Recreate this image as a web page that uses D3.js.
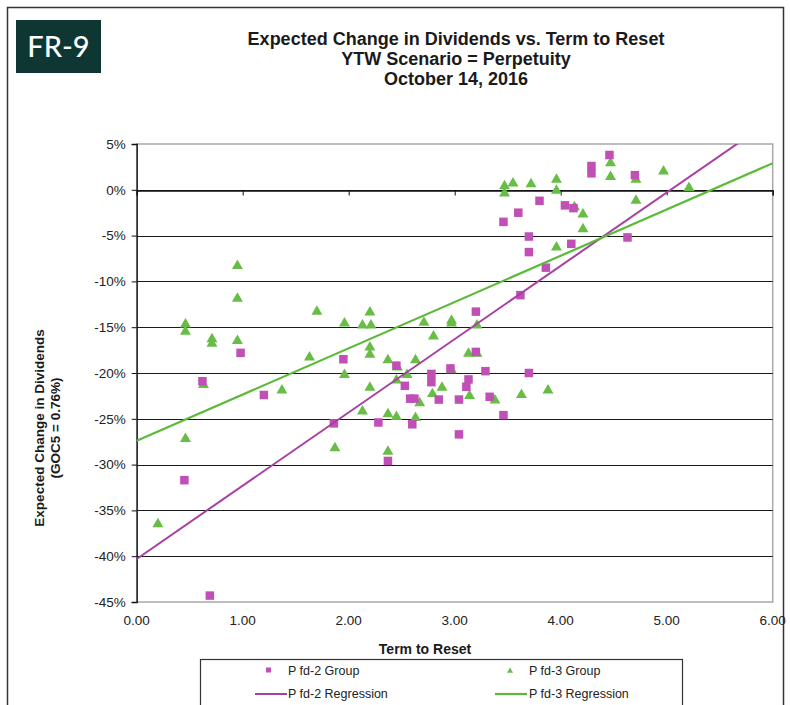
<!DOCTYPE html>
<html>
<head>
<meta charset="utf-8">
<script src="https://cdn.jsdelivr.net/npm/d3@7"></script>
<style>
  html, body { margin: 0; padding: 0; background: #fff; }
  svg { display: block; }
  text { font-family: "Liberation Sans", Arial, sans-serif; }
</style>
</head>
<body>
<svg id="chart" width="790" height="705"></svg>
<script>
// Pfd-2 group: term to reset (years) and expected change in dividends (%)
const pfd2Terms = [0.62, 0.98, 1.20, 0.45, 0.69, 1.86, 1.95, 2.45, 2.53, 2.58, 2.62, 2.78, 2.78, 2.85,
  3.04, 3.11, 3.13, 3.29, 3.33, 3.46, 2.28, 2.60, 3.04, 2.37, 3.70, 3.20, 3.20, 3.62, 3.86, 3.70,
  3.70, 3.46, 3.60, 3.80, 4.04, 4.12, 4.10, 4.63, 4.29, 4.29, 4.46, 4.70, 2.96];
const pfd2Changes = [-20.9, -17.8, -22.4, -31.7, -44.3, -25.5, -18.5, -19.2, -21.4, -22.8, -22.8, -20.1, -21.0, -22.9,
  -22.9, -21.5, -20.7, -19.8, -22.6, -24.6, -25.4, -25.6, -26.7, -29.6, -20.0, -17.7, -13.3, -11.5, -8.5, -6.8,
  -5.1, -3.5, -2.5, -1.2, -1.7, -2.0, -5.9, -5.2, 2.6, 1.8, 3.8, 1.6, -19.5];

// Pfd-3 group
const pfd3Terms = [0.95, 0.95, 1.70, 0.46, 0.46, 0.71, 0.71, 0.95, 1.96, 1.63, 1.96, 0.63, 1.37, 0.46, 1.87, 0.20,
  3.47, 3.47, 3.55, 3.72, 3.96, 3.96, 3.96, 2.20, 2.13, 2.21, 2.71, 2.97, 2.97, 2.80, 3.21, 2.20, 2.20, 3.13,
  3.21, 2.37, 2.63, 2.46, 2.55, 2.97, 4.47, 4.47, 4.71, 4.71, 4.97, 5.21, 4.13, 4.21, 4.21,
  2.20, 2.45, 2.13, 2.37, 2.45, 2.63, 2.67, 2.79, 2.88, 3.14, 3.38, 3.63, 3.88, 2.37];
const pfd3Changes = [-8.2, -11.8, -13.2, -14.6, -15.4, -16.2, -16.7, -16.4, -14.5, -18.2, -20.1, -21.2, -21.8, -27.1, -28.1, -36.4,
  0.5, -0.3, 0.8, 0.7, 1.2, 0.0, -6.2, -13.3, -14.7, -14.7, -14.4, -14.2, -14.5, -15.9, -14.7, -17.1, -17.9, -17.8,
  -17.8, -18.5, -18.5, -19.3, -20.1, -19.6, 3.0, 1.5, 1.2, -1.1, 2.1, 0.3, -1.8, -2.6, -4.2,
  -21.5, -20.7, -24.1, -24.4, -24.7, -24.8, -23.2, -22.2, -21.5, -22.4, -22.9, -22.3, -21.8, -28.5];

// Linear regression fits: [intercept %, slope % per year]
const pfd2Regression = [-40.3, 8.0];
const pfd3Regression = [-27.4, 5.05];

// Axis ticks
const xTicks = [0, 1, 2, 3, 4, 5, 6];
const yTicks = [5, 0, -5, -10, -15, -20, -25, -30, -35, -40, -45];

const titleLines = ["Expected Change in Dividends vs. Term to Reset", "YTW Scenario = Perpetuity", "October 14, 2016"];
const yTitleLines = ["Expected Change in Dividends", "(GOC5 = 0.76%)"];
const xTitle = "Term to Reset";
const legendLabels = ["P fd-2 Group", "P fd-3 Group", "P fd-2 Regression", "P fd-3 Regression"];

const colors = {
  pfd2: "#c04fb6",
  pfd2Line: "#a83fa2",
  pfd3: "#67bd45",
  pfd3Line: "#5cba3a"
};

const svg = d3.select("#chart");

// Outer frame
svg.append("path")
  .attr("d", "M7.5,705 V7.5 H783.5 V705")
  .attr("fill", "none").attr("stroke", "#333").attr("stroke-width", 1.5);

// Badge
svg.append("rect").attr("x", 16).attr("y", 20).attr("width", 85).attr("height", 53).attr("fill", "#0e3733");
svg.append("text").attr("x", 58.5).attr("y", 57)
  .attr("text-anchor", "middle").attr("fill", "#fff")
  .style("font-family", "Lato, 'Open Sans', sans-serif").style("font-size", "29px").style("font-weight", 500)
  .text("FR-9");

// Title
svg.append("g").selectAll("text").data(titleLines).join("text")
  .attr("x", 456).attr("y", (d, i) => 45 + i * 20)
  .attr("text-anchor", "middle").attr("fill", "#1a1a1a")
  .style("font-size", "18px").style("font-weight", "bold")
  .text(d => d);

// Scales
const x = d3.scaleLinear().domain([0, 6]).range([136.7, 772.7]);
const y = d3.scaleLinear().domain([-45, 5]).range([602, 144]);

// Plot area border
svg.append("rect")
  .attr("x", x(0)).attr("y", y(5)).attr("width", x(6) - x(0)).attr("height", y(-45) - y(5))
  .attr("fill", "none").attr("stroke", "#a8a8a8").attr("stroke-width", 1.5);

// Horizontal gridlines
svg.append("g").selectAll("line").data(yTicks.filter(v => v < 5 && v > -45)).join("line")
  .attr("x1", x(0)).attr("x2", x(6))
  .attr("y1", d => Math.round(y(d)) + 0.5).attr("y2", d => Math.round(y(d)) + 0.5)
  .attr("stroke", "#1a1a1a").attr("stroke-width", 1.2);

// Y axis
const yAxis = d3.axisLeft(y).tickValues(yTicks).tickSize(5).tickPadding(6).tickFormat(d => d + "%");
const yG = svg.append("g").attr("transform", `translate(${x(0)},0)`).call(yAxis);
yG.select(".domain").attr("stroke", "#111").attr("stroke-width", 1.3);
yG.selectAll(".tick line").attr("stroke", "#111");
yG.selectAll(".tick text").attr("fill", "#222")
  .style("font-family", "'Liberation Sans', Arial, sans-serif").style("font-size", "13.5px");

// X axis line crosses at 0%, with labels along the bottom
const xAxis = d3.axisBottom(x).tickValues(xTicks).tickSize(5).tickFormat("");
const xG = svg.append("g").attr("transform", `translate(0,${Math.round(y(0)) + 0.5})`).call(xAxis);
xG.select(".domain").attr("stroke", "#111").attr("stroke-width", 1.3);
xG.selectAll(".tick line").attr("stroke", "#111");

svg.append("g").selectAll("text").data(xTicks).join("text")
  .attr("x", d => x(d)).attr("y", 625)
  .attr("text-anchor", "middle").attr("fill", "#222")
  .style("font-size", "13.5px")
  .text(d => d.toFixed(2));

// Axis titles
svg.append("text").attr("x", 425).attr("y", 654)
  .attr("text-anchor", "middle").attr("fill", "#1a1a1a")
  .style("font-size", "14px").style("font-weight", "bold")
  .text(xTitle);

svg.append("g").attr("transform", "translate(0,428) rotate(-90)")
  .selectAll("text").data(yTitleLines).join("text")
  .attr("x", 0).attr("y", (d, i) => 44 + i * 16)
  .attr("text-anchor", "middle").attr("fill", "#1a1a1a")
  .style("font-size", "13.5px").style("font-weight", "bold")
  .text(d => d);

// Clip for regression lines
svg.append("clipPath").attr("id", "plotClip").append("rect")
  .attr("x", x(0)).attr("y", y(5)).attr("width", x(6) - x(0)).attr("height", y(-45) - y(5));

const line = d3.line().x(d => x(d[0])).y(d => y(d[1]));
const regLine = r => [0, 6].map(t => [t, r[0] + r[1] * t]);

const plot = svg.append("g");

// Pfd-3 triangles
const tri = d3.symbol().type(d3.symbolTriangle).size(52);
plot.append("g").selectAll("path").data(pfd3Terms.map((t, i) => [t, pfd3Changes[i]])).join("path")
  .attr("d", tri)
  .attr("transform", d => `translate(${x(d[0])},${y(d[1]) + 0.8})`)
  .attr("fill", colors.pfd3);

// Pfd-2 squares
plot.append("g").selectAll("rect").data(pfd2Terms.map((t, i) => [t, pfd2Changes[i]])).join("rect")
  .attr("x", d => x(d[0]) - 4.25).attr("y", d => y(d[1]) - 4.25)
  .attr("width", 8.5).attr("height", 8.5)
  .attr("fill", colors.pfd2);

// Regression lines
plot.append("path").datum(regLine(pfd2Regression)).attr("d", line)
  .attr("clip-path", "url(#plotClip)")
  .attr("fill", "none").attr("stroke", colors.pfd2Line).attr("stroke-width", 2);
plot.append("path").datum(regLine(pfd3Regression)).attr("d", line)
  .attr("clip-path", "url(#plotClip)")
  .attr("fill", "none").attr("stroke", colors.pfd3Line).attr("stroke-width", 2.2);

// Legend
const lg = svg.append("g");
lg.append("rect").attr("x", 200.5).attr("y", 659.5).attr("width", 482).attr("height", 60)
  .attr("fill", "#fff").attr("stroke", "#333").attr("stroke-width", 1.2);

lg.append("rect").attr("x", 266).attr("y", 667.5).attr("width", 5).attr("height", 5).attr("fill", colors.pfd2);
lg.append("path").attr("d", d3.symbol().type(d3.symbolTriangle).size(16))
  .attr("transform", "translate(510,671)").attr("fill", colors.pfd3);
lg.append("line").attr("x1", 255).attr("x2", 287).attr("y1", 694).attr("y2", 694)
  .attr("stroke", colors.pfd2Line).attr("stroke-width", 2);
lg.append("line").attr("x1", 495).attr("x2", 527).attr("y1", 694).attr("y2", 694)
  .attr("stroke", colors.pfd3Line).attr("stroke-width", 2.2);

const legendPos = [[288, 675], [529, 675], [288, 698], [529, 698]];
lg.selectAll("text.lbl").data(legendLabels).join("text").attr("class", "lbl")
  .attr("x", (d, i) => legendPos[i][0]).attr("y", (d, i) => legendPos[i][1])
  .attr("fill", "#222").style("font-size", "12.5px")
  .text(d => d);
</script>
</body>
</html>
